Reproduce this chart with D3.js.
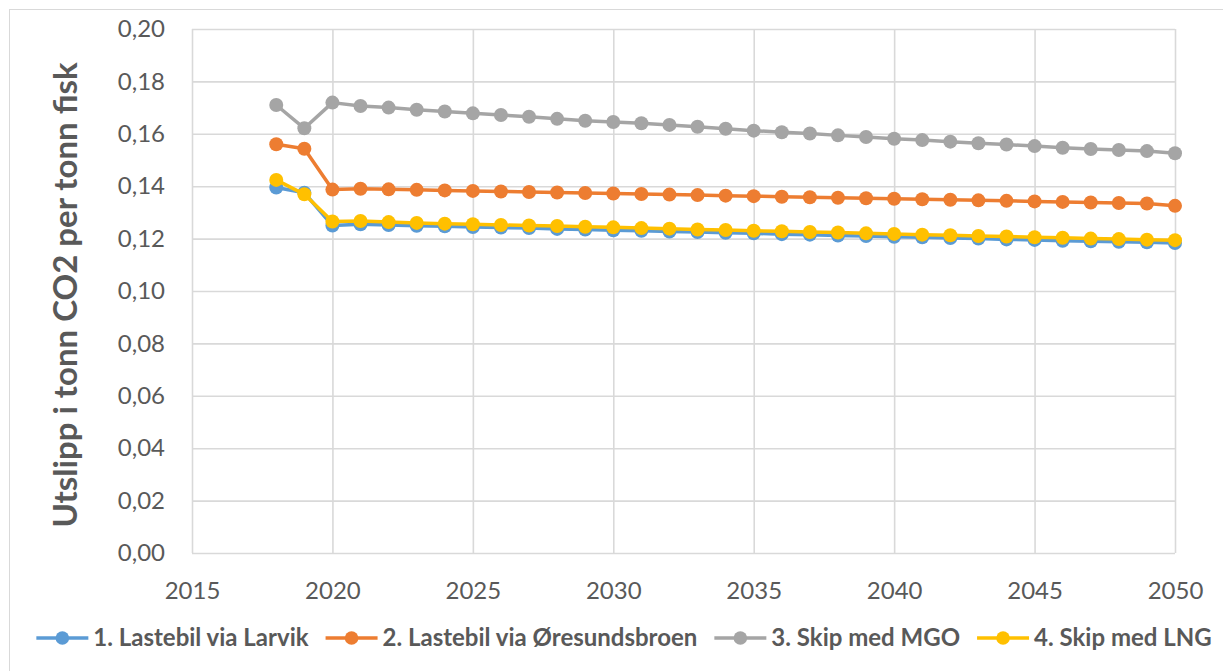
<!DOCTYPE html>
<html>
<head>
<meta charset="utf-8">
<script src="https://cdn.jsdelivr.net/npm/d3@7"></script>
<style>
  html, body { margin: 0; padding: 0; background: #fff; }
  svg { display: block; }
  text { font-family: Lato, "Open Sans", sans-serif; fill: #595959; }
</style>
</head>
<body>
<svg id="chart" width="1223" height="671"></svg>
<script>
// Years on the x axis
const years = d3.range(2018, 2051);

// Emissions, tonnes CO2 per tonne of fish
const larvik = [0.1395, 0.1375, 0.1250, 0.1255, 0.1252, 0.1249, 0.1247, 0.1244, 0.1242, 0.1240,
  0.1237, 0.1235, 0.1232, 0.1230, 0.1227, 0.1225, 0.1222, 0.1220, 0.1217, 0.1215,
  0.1212, 0.1210, 0.1207, 0.1205, 0.1202, 0.1200, 0.1197, 0.1195, 0.1192, 0.1190,
  0.1188, 0.1186, 0.1183];
const oresund = [0.1560, 0.1543, 0.1387, 0.1390, 0.1388, 0.1386, 0.1384, 0.1382, 0.1380, 0.1378,
  0.1376, 0.1374, 0.1372, 0.1370, 0.1368, 0.1366, 0.1364, 0.1362, 0.1360, 0.1358,
  0.1356, 0.1354, 0.1352, 0.1350, 0.1348, 0.1346, 0.1344, 0.1342, 0.1340, 0.1338,
  0.1336, 0.1334, 0.1325];
const mgo = [0.1710, 0.1621, 0.1719, 0.1706, 0.1700, 0.1692, 0.1685, 0.1678, 0.1672, 0.1665,
  0.1657, 0.1650, 0.1645, 0.1640, 0.1634, 0.1627, 0.1619, 0.1612, 0.1606, 0.1601,
  0.1594, 0.1588, 0.1581, 0.1576, 0.1570, 0.1564, 0.1559, 0.1553, 0.1547, 0.1542,
  0.1538, 0.1534, 0.1526];
const lng = [0.1424, 0.1369, 0.1265, 0.1267, 0.1263, 0.1260, 0.1257, 0.1255, 0.1252, 0.1250,
  0.1248, 0.1245, 0.1243, 0.1240, 0.1238, 0.1235, 0.1233, 0.1230, 0.1228, 0.1225,
  0.1223, 0.1220, 0.1218, 0.1215, 0.1213, 0.1210, 0.1208, 0.1205, 0.1203, 0.1200,
  0.1198, 0.1196, 0.1194];

const seriesNames = ["1. Lastebil via Larvik", "2. Lastebil via Øresundsbroen", "3. Skip med MGO", "4. Skip med LNG"];
const seriesColors = ["#5B9BD5", "#ED7D31", "#A5A5A5", "#FFC000"];
const seriesValues = [larvik, oresund, mgo, lng];

const xTicks = [2015, 2020, 2025, 2030, 2035, 2040, 2045, 2050];
const yTicks = [0, 0.02, 0.04, 0.06, 0.08, 0.10, 0.12, 0.14, 0.16, 0.18, 0.20];
const yTitle = "Utslipp i tonn CO2 per tonn fisk";

const svg = d3.select("#chart");
const W = 1223, H = 671;
const plot = { left: 192, right: 1175, top: 29, bottom: 553 };

// Outer chart frame
svg.append("rect")
  .attr("x", 9.5).attr("y", 9.5)
  .attr("width", W - 8).attr("height", H - 4)
  .attr("fill", "#fff").attr("stroke", "#d9d9d9").attr("stroke-width", 1);

const x = d3.scaleLinear().domain([2015, 2050]).range([plot.left, plot.right]);
const y = d3.scaleLinear().domain([0, 0.20]).range([plot.bottom, plot.top]);
const fmt = v => d3.format(".2f")(v).replace(".", ",");

// Horizontal gridlines + y labels
const yAxis = d3.axisLeft(y).tickValues(yTicks).tickFormat(fmt)
  .tickSize(-(plot.right - plot.left)).tickPadding(27);
const gy = svg.append("g").attr("transform", `translate(${plot.left},0)`).call(yAxis);
gy.select(".domain").remove();
gy.selectAll(".tick line").attr("stroke", "#d9d9d9").attr("stroke-width", 1.6);
gy.selectAll(".tick text").attr("font-size", 24).attr("fill", "#595959")
  .style("font-family", "Lato, sans-serif");

// Vertical gridlines + x labels
const xAxis = d3.axisBottom(x).tickValues(xTicks).tickFormat(d3.format("d"))
  .tickSize(-(plot.bottom - plot.top)).tickPadding(29);
const gx = svg.append("g").attr("transform", `translate(0,${plot.bottom})`).call(xAxis);
gx.select(".domain").remove();
gx.selectAll(".tick line").attr("stroke", "#d9d9d9").attr("stroke-width", 1.6);
gx.selectAll(".tick text").attr("font-size", 24).attr("fill", "#595959")
  .style("font-family", "Lato, sans-serif");

// Y axis title
svg.append("text")
  .attr("transform", `translate(77,${(plot.top + plot.bottom) / 2 + 4}) rotate(-90)`)
  .attr("text-anchor", "middle")
  .attr("font-size", 33).attr("font-weight", "bold")
  .text(yTitle);

// Series lines and markers
const line = d3.line().x((d, i) => x(years[i])).y(d => y(d));
seriesValues.forEach((vals, s) => {
  const g = svg.append("g");
  g.append("path").datum(vals)
    .attr("d", line).attr("fill", "none")
    .attr("stroke", seriesColors[s]).attr("stroke-width", 3.5)
    .attr("stroke-linejoin", "round");
  g.selectAll("circle").data(vals).join("circle")
    .attr("cx", (d, i) => x(years[i])).attr("cy", d => y(d))
    .attr("r", 7).attr("fill", seriesColors[s]);
});

// Legend, centred under the chart
const legend = svg.append("g");
const symW = 52, symGap = 5, itemGap = 17;
let lx = 0;
seriesNames.forEach((name, s) => {
  const item = legend.append("g").attr("transform", `translate(${lx},0)`);
  item.append("line").attr("x1", 0).attr("x2", symW).attr("y1", 0).attr("y2", 0)
    .attr("stroke", seriesColors[s]).attr("stroke-width", 3.5);
  item.append("circle").attr("cx", symW / 2).attr("cy", 0).attr("r", 6.8).attr("fill", seriesColors[s]);
  const t = item.append("text").attr("x", symW + symGap).attr("y", 0).attr("dy", "0.35em")
    .attr("font-size", 24).attr("font-weight", "bold").text(name);
  lx += symW + symGap + t.node().getComputedTextLength() + (s < seriesNames.length - 1 ? itemGap : 0);
});
legend.attr("transform", `translate(${(30 + 1218) / 2 - lx / 2},638)`);
</script>
</body>
</html>
